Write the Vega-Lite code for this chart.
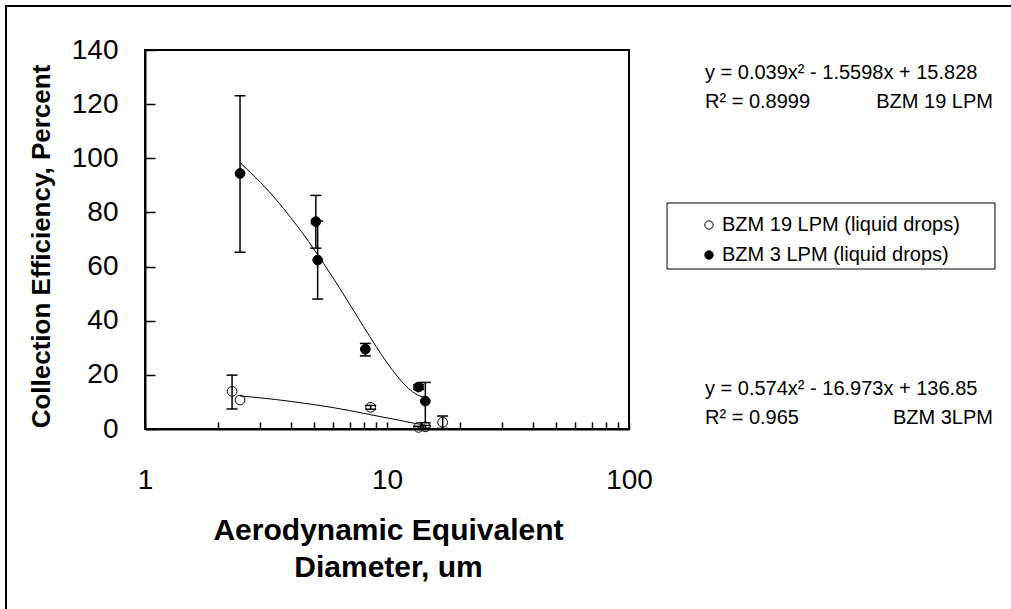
{
  "$schema": "https://vega.github.io/schema/vega-lite/v6.json",
  "width": 484,
  "height": 379,
  "autosize": {"type": "none"},
  "padding": {"left": 145, "top": 50, "right": 382, "bottom": 180},
  "background": "white",
  "config": {
    "font": "Liberation Sans",
    "view": {"stroke": "black", "strokeWidth": 2},
    "axis": {"grid": false, "domainColor": "black", "domainWidth": 2, "tickColor": "black", "tickWidth": 1.5, "labelColor": "black", "titleColor": "black"}
  },
  "datasets": {
    "points": [
      {"series": "BZM 3 LPM (liquid drops)", "x": 2.47, "y": 94.4, "lo": 65.3, "hi": 123.1},
      {"series": "BZM 3 LPM (liquid drops)", "x": 5.08, "y": 76.6, "lo": 66.8, "hi": 86.3},
      {"series": "BZM 3 LPM (liquid drops)", "x": 5.17, "y": 62.4, "lo": 48.0, "hi": 76.8},
      {"series": "BZM 3 LPM (liquid drops)", "x": 8.14, "y": 29.5, "lo": 27.0, "hi": 31.6},
      {"series": "BZM 3 LPM (liquid drops)", "x": 13.5, "y": 15.5, "lo": 14.6, "hi": 16.4},
      {"series": "BZM 3 LPM (liquid drops)", "x": 14.4, "y": 10.3, "lo": 2.3, "hi": 17.2},
      {"series": "BZM 19 LPM (liquid drops)", "x": 2.29, "y": 13.9, "lo": 7.4, "hi": 19.9},
      {"series": "BZM 19 LPM (liquid drops)", "x": 2.47, "y": 10.7, "lo": null, "hi": null},
      {"series": "BZM 19 LPM (liquid drops)", "x": 8.56, "y": 8.0, "lo": 7.3, "hi": 8.7},
      {"series": "BZM 19 LPM (liquid drops)", "x": 13.5, "y": 0.6, "lo": 0.2, "hi": 1.0},
      {"series": "BZM 19 LPM (liquid drops)", "x": 14.4, "y": 0.8, "lo": 0.3, "hi": 1.3},
      {"series": "BZM 19 LPM (liquid drops)", "x": 16.98, "y": 2.5, "lo": 0.2, "hi": 4.8}
    ],
    "curves": [
      {"series": "BZM 3 LPM", "x": 2.47, "y": 98.4},
      {"series": "BZM 3 LPM", "x": 3, "y": 91.1},
      {"series": "BZM 3 LPM", "x": 3.5, "y": 84.5},
      {"series": "BZM 3 LPM", "x": 4, "y": 78.1},
      {"series": "BZM 3 LPM", "x": 4.5, "y": 72.1},
      {"series": "BZM 3 LPM", "x": 5, "y": 66.3},
      {"series": "BZM 3 LPM", "x": 6, "y": 55.7},
      {"series": "BZM 3 LPM", "x": 7, "y": 46.2},
      {"series": "BZM 3 LPM", "x": 8, "y": 37.8},
      {"series": "BZM 3 LPM", "x": 9, "y": 30.6},
      {"series": "BZM 3 LPM", "x": 10, "y": 24.5},
      {"series": "BZM 3 LPM", "x": 11, "y": 19.6},
      {"series": "BZM 3 LPM", "x": 12, "y": 15.8},
      {"series": "BZM 3 LPM", "x": 13, "y": 13.2},
      {"series": "BZM 3 LPM", "x": 14.4, "y": 11.5},
      {"series": "BZM 19 LPM", "x": 2.47, "y": 12.2},
      {"series": "BZM 19 LPM", "x": 3, "y": 11.5},
      {"series": "BZM 19 LPM", "x": 4, "y": 10.2},
      {"series": "BZM 19 LPM", "x": 5, "y": 9.0},
      {"series": "BZM 19 LPM", "x": 6, "y": 7.9},
      {"series": "BZM 19 LPM", "x": 7, "y": 6.8},
      {"series": "BZM 19 LPM", "x": 8, "y": 5.8},
      {"series": "BZM 19 LPM", "x": 9, "y": 4.9},
      {"series": "BZM 19 LPM", "x": 10, "y": 4.1},
      {"series": "BZM 19 LPM", "x": 11, "y": 3.4},
      {"series": "BZM 19 LPM", "x": 12, "y": 2.7},
      {"series": "BZM 19 LPM", "x": 13, "y": 2.1},
      {"series": "BZM 19 LPM", "x": 14.4, "y": 1.45}
    ]
  },
  "layer": [
    {
      "data": {"values": [{"frame": "chart area"}]},
      "mark": {"type": "rect", "filled": false, "color": "black", "strokeWidth": 2, "clip": false},
      "encoding": {
        "x": {"datum": 0.2665, "type": "quantitative", "scale": {"type": "log", "domain": [1, 100], "nice": false}},
        "x2": {"datum": 4000},
        "y": {"datum": 156.25, "type": "quantitative", "scale": {"domain": [0, 140], "nice": false, "zero": false}},
        "y2": {"datum": -70}
      }
    },
    {
      "data": {"values": [{"frame": "legend box"}]},
      "mark": {"type": "rect", "fill": "white", "stroke": "black", "strokeWidth": 1, "clip": false},
      "encoding": {
        "x": {"datum": 143.6, "type": "quantitative", "scale": {"type": "log", "domain": [1, 100], "nice": false}},
        "x2": {"datum": 3253},
        "y": {"datum": 83.48, "type": "quantitative", "scale": {"domain": [0, 140], "nice": false, "zero": false}},
        "y2": {"datum": 59.1}
      }
    },
    {
      "data": {"name": "points"},
      "transform": [{"filter": "isValid(datum.lo)"}],
      "mark": {"type": "rule", "color": "black", "strokeWidth": 1.5},
      "encoding": {
        "x": {"field": "x", "type": "quantitative", "scale": {"type": "log", "domain": [1, 100], "nice": false}},
        "y": {"field": "lo", "type": "quantitative", "scale": {"domain": [0, 140], "nice": false, "zero": false}},
        "y2": {"field": "hi"}
      }
    },
    {
      "data": {"name": "points"},
      "transform": [{"filter": "isValid(datum.lo)"}],
      "mark": {"type": "tick", "orient": "horizontal", "size": 11, "thickness": 1.5, "color": "black", "opacity": 1},
      "encoding": {
        "x": {"field": "x", "type": "quantitative", "scale": {"type": "log", "domain": [1, 100], "nice": false}},
        "y": {"field": "lo", "type": "quantitative", "scale": {"domain": [0, 140], "nice": false, "zero": false}}
      }
    },
    {
      "data": {"name": "points"},
      "transform": [{"filter": "isValid(datum.hi)"}],
      "mark": {"type": "tick", "orient": "horizontal", "size": 11, "thickness": 1.5, "color": "black", "opacity": 1},
      "encoding": {
        "x": {"field": "x", "type": "quantitative", "scale": {"type": "log", "domain": [1, 100], "nice": false}},
        "y": {"field": "hi", "type": "quantitative", "scale": {"domain": [0, 140], "nice": false, "zero": false}}
      }
    },
    {
      "data": {"name": "curves"},
      "mark": {"type": "line", "color": "black", "strokeWidth": 1, "interpolate": "monotone"},
      "encoding": {
        "x": {"field": "x", "type": "quantitative", "scale": {"type": "log", "domain": [1, 100], "nice": false}},
        "y": {"field": "y", "type": "quantitative", "scale": {"domain": [0, 140], "nice": false, "zero": false}},
        "detail": {"field": "series"}
      }
    },
    {
      "data": {"name": "points"},
      "mark": {"type": "point", "shape": "circle", "filled": true, "stroke": "black", "strokeWidth": 1, "opacity": 1, "size": 95},
      "encoding": {
        "x": {
          "field": "x", "type": "quantitative",
          "scale": {"type": "log", "domain": [1, 100], "nice": false},
          "axis": {
            "title": ["Aerodynamic Equivalent", "Diameter, um"],
            "values": [1, 2, 3, 4, 5, 6, 7, 8, 9, 10, 20, 30, 40, 50, 60, 70, 80, 90, 100],
            "format": "d",
            "labelExpr": "indexof([1, 10, 100], datum.value) >= 0 ? datum.label : ''",
            "tickSize": -7,
            "labelPadding": 44,
            "labelFontSize": 28,
            "labelFlush": false,
            "labelOverlap": false,
            "labelBaseline": "top",
            "titleFontSize": 30,
            "titleFontWeight": "bold",
            "titleX": 243,
            "titleY": 86,
            "titleAlign": "center",
            "titleBaseline": "top",
            "titleLineHeight": 37
          }
        },
        "y": {
          "field": "y", "type": "quantitative",
          "scale": {"domain": [0, 140], "nice": false, "zero": false},
          "axis": {
            "title": "Collection Efficiency, Percent",
            "values": [0, 20, 40, 60, 80, 100, 120, 140],
            "tickSize": -10,
            "labelPadding": 37,
            "labelFontSize": 28,
            "labelFlush": false,
            "labelOverlap": false,
            "titleFontSize": 26,
            "titleFontWeight": "bold",
            "titleAngle": -90,
            "titleX": -104,
            "titleY": 196,
            "titleAlign": "center",
            "titleBaseline": "middle"
          }
        },
        "fill": {
          "field": "series", "type": "nominal",
          "scale": {"domain": ["BZM 19 LPM (liquid drops)", "BZM 3 LPM (liquid drops)"], "range": ["transparent", "black"]},
          "legend": {
            "title": null,
            "orient": "none",
            "legendX": 522,
            "legendY": 156,
            "padding": 9,
            "labelFontSize": 20,
            "labelColor": "black",
            "labelLimit": 500,
            "symbolType": "circle",
            "symbolSize": 70,
            "symbolStrokeColor": "black",
            "symbolStrokeWidth": 1,
            "symbolOffset": 23,
            "labelOffset": 3,
            "rowPadding": 10
          }
        }
      }
    },
    {
      "data": {"values": [{"note": "y = 0.039x² - 1.5598x + 15.828\nR² = 0.8999"}]},
      "mark": {"type": "text", "align": "left", "baseline": "alphabetic", "fontSize": 20, "lineHeight": 29, "lineBreak": "\n", "color": "black"},
      "encoding": {
        "x": {"datum": 206.1, "type": "quantitative", "scale": {"type": "log", "domain": [1, 100], "nice": false}},
        "y": {"datum": 129.2, "type": "quantitative", "scale": {"domain": [0, 140], "nice": false, "zero": false}},
        "text": {"field": "note"}
      }
    },
    {
      "data": {"values": [{"note": "BZM 19 LPM"}]},
      "mark": {"type": "text", "align": "right", "baseline": "alphabetic", "fontSize": 20, "color": "black"},
      "encoding": {
        "x": {"datum": 3192, "type": "quantitative", "scale": {"type": "log", "domain": [1, 100], "nice": false}},
        "y": {"datum": 118.5, "type": "quantitative", "scale": {"domain": [0, 140], "nice": false, "zero": false}},
        "text": {"field": "note"}
      }
    },
    {
      "data": {"values": [{"note": "y = 0.574x² - 16.973x + 136.85\nR² = 0.965"}]},
      "mark": {"type": "text", "align": "left", "baseline": "alphabetic", "fontSize": 20, "lineHeight": 29, "lineBreak": "\n", "color": "black"},
      "encoding": {
        "x": {"datum": 206.1, "type": "quantitative", "scale": {"type": "log", "domain": [1, 100], "nice": false}},
        "y": {"datum": 12.49, "type": "quantitative", "scale": {"domain": [0, 140], "nice": false, "zero": false}},
        "text": {"field": "note"}
      }
    },
    {
      "data": {"values": [{"note": "BZM 3LPM"}]},
      "mark": {"type": "text", "align": "right", "baseline": "alphabetic", "fontSize": 20, "color": "black"},
      "encoding": {
        "x": {"datum": 3192, "type": "quantitative", "scale": {"type": "log", "domain": [1, 100], "nice": false}},
        "y": {"datum": 1.77, "type": "quantitative", "scale": {"domain": [0, 140], "nice": false, "zero": false}},
        "text": {"field": "note"}
      }
    }
  ]
}
